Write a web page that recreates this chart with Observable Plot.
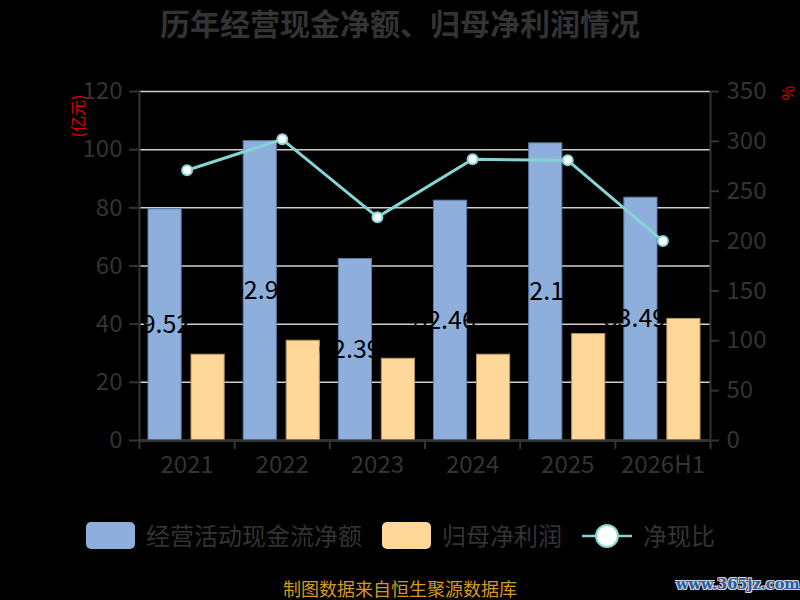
<!DOCTYPE html>
<html>
<head>
<meta charset="utf-8">
<script src="https://cdn.jsdelivr.net/npm/d3@7"></script>
<script src="https://cdn.jsdelivr.net/npm/@observablehq/plot@0.6"></script>
<style>
  html, body { margin: 0; padding: 0; background: #000; }
  #wrap { position: relative; width: 800px; height: 600px; background: #000; overflow: hidden;
          font-family: "Noto Sans CJK SC", "Noto Sans", sans-serif; }
  #chart { position: absolute; left: 0; top: 0; }
  .abs { position: absolute; white-space: nowrap; }
  #title { left: 0; width: 800px; top: 6px; text-align: center; font-size: 30px; font-weight: bold; color: #333; line-height: 32px; }
  .yname { color: #e00000; font-size: 16px; line-height: 16px; transform: translate(-50%, -50%) rotate(-90deg); }
  .lg-text { font-size: 24px; color: #333; line-height: 28px; top: 521px; }
  .lg-box { top: 522px; width: 49px; height: 27px; border-radius: 5px; }
  #caption { left: 0; width: 800px; top: 578px; text-align: center; font-size: 18px; color: #d49a1c; line-height: 20px; }
  #mark { left: 676px; top: 575px; font-family: "DejaVu Serif", serif; font-weight: bold; font-size: 14.5px; color: #2a5b9c;
          text-shadow: -1px -1px 0 #cfd8e6, 1px -1px 0 #cfd8e6, -1px 1px 0 #cfd8e6, 1px 1px 0 #cfd8e6; }
</style>
</head>
<body>
<div id="wrap">
  <div id="chart"></div>
  <div id="title" class="abs">历年经营现金净额、归母净利润情况</div>
  <div class="abs yname" style="left:77px; top:116px;">(亿元)</div>
  <div class="abs yname" style="left:787px; top:93px;">%</div>

  <div class="abs lg-box" style="left:86px; background:#8eafdb;"></div>
  <div class="abs lg-text" style="left:146px;">经营活动现金流净额</div>
  <div class="abs lg-box" style="left:382px; background:#ffd899;"></div>
  <div class="abs lg-text" style="left:442px;">归母净利润</div>
  <svg class="abs" style="left:580px; top:522px;" width="56" height="28">
    <line x1="2" y1="14" x2="52" y2="14" stroke="#86d4d4" stroke-width="2.5"></line>
    <ellipse cx="27" cy="14" rx="11" ry="11" fill="#fff" stroke="#86d4d4" stroke-width="2"></ellipse>
  </svg>
  <div class="abs lg-text" style="left:643px;">净现比</div>

  <div id="caption" class="abs">制图数据来自恒生聚源数据库</div>
  <div id="mark" class="abs">www.365jz.com</div>
</div>
<script>
// ---- data ----
const years = ["2021", "2022", "2023", "2024", "2025", "2026H1"];
const cashFlow = [79.52, 102.93, 62.39, 82.46, 102.17, 83.49];   // 经营活动现金流净额 (亿元)
const netProfit = [29.5, 34.3, 28.1, 29.5, 36.6, 41.8];          // 归母净利润 (亿元)
const cashRatio = [271, 302, 224, 282, 281, 200];                // 净现比 (%)
const leftTicks = [0, 20, 40, 60, 80, 100, 120];
const rightTicks = [0, 50, 100, 150, 200, 250, 300, 350];
const leftMax = 120, rightMax = 350;

const rows = years.map((year, i) => ({year, cash: cashFlow[i], profit: netProfit[i], ratio: cashRatio[i]}));
const toLeft = v => v * leftMax / rightMax;

// ---- layout ----
const W = 800, H = 600;
const mL = 139, mR = 90, mT = 91, mB = 160;
const bw = (W - mL - mR) / years.length;
const axisColor = "#333";
const teal = "#86d4d4";

const chart = Plot.plot({
  width: W, height: H,
  marginLeft: mL, marginRight: mR, marginTop: mT, marginBottom: mB,
  style: {background: "transparent", color: axisColor, fontFamily: "'Noto Sans CJK SC', 'Noto Sans', sans-serif", overflow: "visible"},
  x: {type: "band", domain: years, padding: 0, round: false},
  y: {domain: [0, leftMax], range: [H - mB, mT]},
  marks: [
    Plot.gridY(leftTicks, {stroke: "#cfcfcf", strokeOpacity: 1, strokeWidth: 1.5}),
    Plot.barY(rows, {x: "year", y: "cash", fill: "#8eafdb", stroke: "#5f7ea8", strokeWidth: 1, insetLeft: 9, insetRight: 53}),
    Plot.barY(rows, {x: "year", y: "profit", fill: "#ffd899", stroke: "#b8955e", strokeWidth: 1, insetLeft: 52, insetRight: 10}),
    Plot.text(rows, {x: "year", y: d => d.cash / 2, text: d => d.cash.toFixed(2), dx: -28, fill: "#000", fontSize: 25}),
    // axis lines
    Plot.ruleY([0], {stroke: axisColor, strokeWidth: 2}),
    Plot.ruleX([years[0]], {dx: -bw / 2, y1: 0, y2: leftMax, stroke: axisColor, strokeWidth: 2}),
    Plot.ruleX([years[years.length - 1]], {dx: bw / 2, y1: 0, y2: leftMax, stroke: axisColor, strokeWidth: 2}),
    // category boundary ticks
    Plot.ruleX(years, {x: d => d, dx: -bw / 2, y1: 0, y2: 0, insetTop: 0, insetBottom: -9, stroke: axisColor, strokeWidth: 2}),
    Plot.ruleX([years[years.length - 1]], {dx: bw / 2, y1: 0, y2: 0, insetTop: 0, insetBottom: -9, stroke: axisColor, strokeWidth: 2}),
    Plot.axisY(leftTicks, {anchor: "left", tickSize: 10, tickPadding: 7, fontSize: 24, stroke: axisColor, strokeWidth: 2, fill: axisColor, label: null}),
    Plot.axisY(rightTicks.map(toLeft), {anchor: "right", tickSize: 8, tickPadding: 8, fontSize: 24, tickFormat: d => String(Math.round(d * rightMax / leftMax)), stroke: axisColor, strokeWidth: 2, fill: axisColor, label: null}),
    Plot.axisX({tickSize: 0, tickPadding: 15, fontSize: 24, fill: axisColor, label: null}),
    // 净现比 line
    Plot.line(rows, {x: "year", y: d => toLeft(d.ratio), stroke: teal, strokeWidth: 3}),
    Plot.dot(rows, {x: "year", y: d => toLeft(d.ratio), r: 5, fill: "#fff", stroke: teal, strokeWidth: 2})
  ]
});
document.getElementById("chart").appendChild(chart);
</script>
</body>
</html>
